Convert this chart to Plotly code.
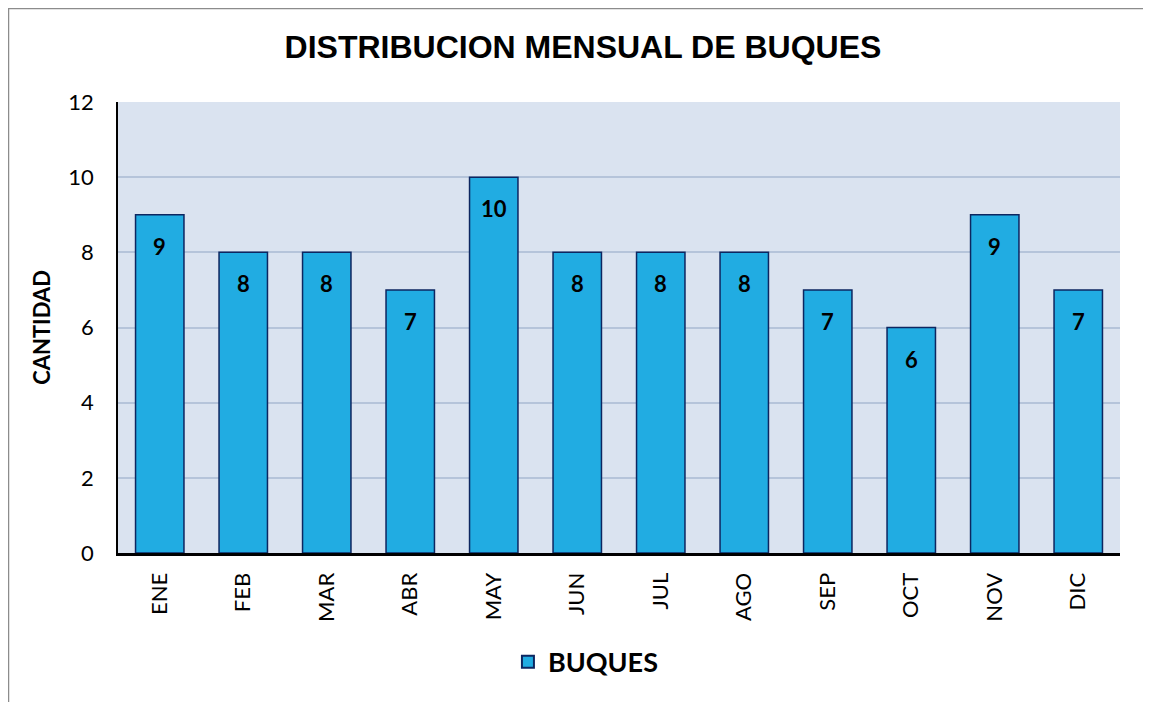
import plotly.graph_objects as go

months = ["ENE", "FEB", "MAR", "ABR", "MAY", "JUN", "JUL", "AGO", "SEP", "OCT", "NOV", "DIC"]
buques = [9, 8, 8, 7, 10, 8, 8, 8, 7, 6, 9, 7]
y_ticks = [0, 2, 4, 6, 8, 10, 12]

FONT = "Lato, Open Sans, sans-serif"

fig = go.Figure()
fig.add_trace(go.Bar(
    x=months, y=buques, name="BUQUES",
    marker=dict(color="#21ACE2", line=dict(color="#0D2660", width=1.5)),
    width=0.58,
))

annotations = [
    dict(x=m, y=v, xref="x", yref="y", text=f"<b>{v}</b>", showarrow=False,
         yanchor="top", yshift=-16,
         font=dict(family=FONT, size=22, color="black"))
    for m, v in zip(months, buques)
]

W, H = 1143, 694
fig.update_layout(
    width=W, height=H,
    margin=dict(l=110, r=31, t=94, b=149),
    paper_bgcolor="white", plot_bgcolor="#DAE3F0",
    title=dict(text="<b>DISTRIBUCION MENSUAL DE BUQUES</b>", x=0.503, xanchor="center",
               y=0.944, yanchor="middle",
               font=dict(family="Liberation Sans, Arial, sans-serif", size=32, color="black")),
    showlegend=True,
    legend=dict(orientation="h", x=0.467, xanchor="center", y=-0.242, yanchor="middle",
                font=dict(family=FONT, size=27, color="black", weight="bold"),
                itemsizing="constant"),
    annotations=annotations,
    shapes=[
        dict(type="line", xref="paper", yref="paper",
             x0=-109.5 / 1002, x1=-109.5 / 1002, y0=1 + 94 / 451, y1=-0.5,
             line=dict(color="#8C8C8C", width=1.5)),
        dict(type="line", xref="paper", yref="paper",
             x0=-109.5 / 1002, x1=1.2, y0=1 + 93.5 / 451, y1=1 + 93.5 / 451,
             line=dict(color="#8C8C8C", width=1.5)),
    ],
)
fig.update_xaxes(
    type="category", tickangle=-90, showgrid=False,
    tickfont=dict(family=FONT, size=22, color="black"),
    showline=True, linecolor="black", linewidth=3,
    ticks="outside", ticklen=8, tickcolor="rgba(0,0,0,0)",
)
fig.update_yaxes(
    range=[0, 12], tickvals=y_ticks, ticktext=[str(v) for v in y_ticks],
    showgrid=True, gridcolor="#B5C4DA", gridwidth=1.5,
    showline=True, linecolor="black", linewidth=1.5, zeroline=False,
    ticks="outside", ticklen=18, tickcolor="rgba(0,0,0,0)",
    tickfont=dict(family=FONT, size=22, color="black"),
    title=dict(text="<b>CANTIDAD</b>", standoff=12,
               font=dict(family=FONT, size=22, color="black")),
)

fig.write_html("out.html")
